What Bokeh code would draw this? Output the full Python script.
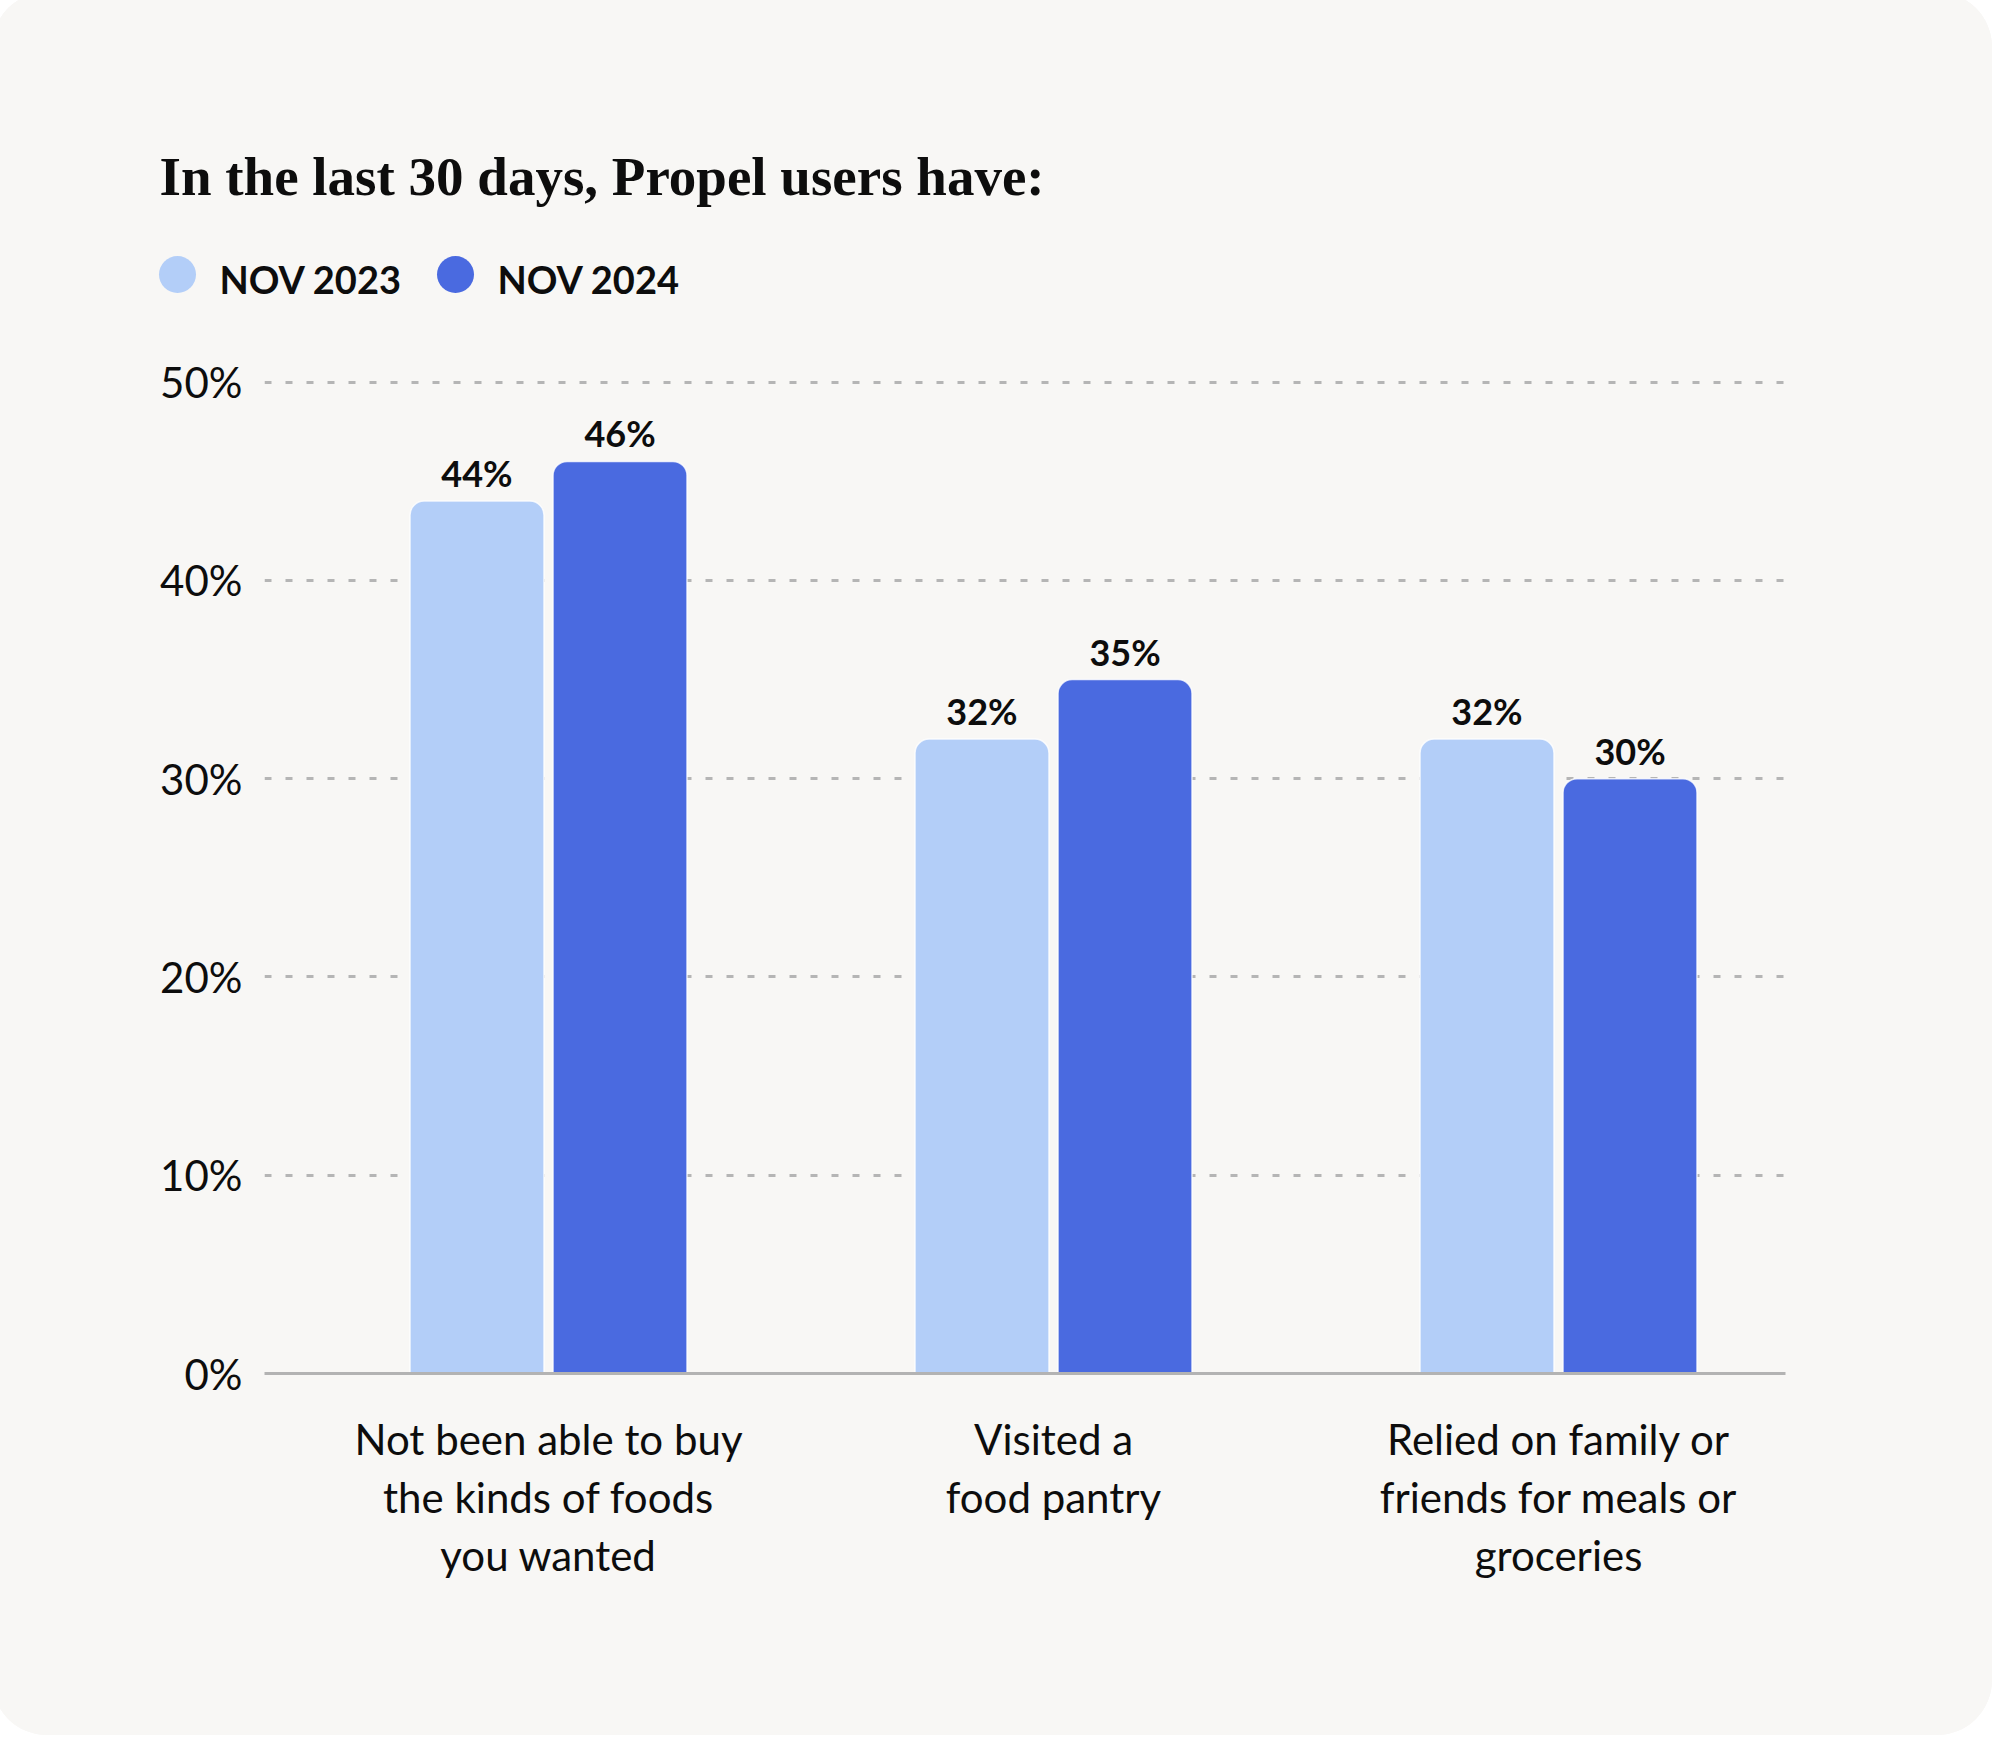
from bokeh.plotting import figure
from bokeh.layouts import column
from bokeh.models import (ColumnDataSource, Range1d, FixedTicker, LabelSet, PrintfTickFormatter)
from bokeh.embed import file_html
from bokeh.resources import INLINE
from bokeh.core.properties import value

# ---------------- data ----------------
categories = [
    "Not been able to buy\nthe kinds of foods\nyou wanted",
    "Visited a\nfood pantry",
    "Relied on family or\nfriends for meals or\ngroceries",
]
series_names = ["NOV 2023", "NOV 2024"]
nov_2023 = [44, 32, 32]
nov_2024 = [46, 35, 30]
y_ticks = [0, 10, 20, 30, 40, 50]
title_text = "In the last 30 days, Propel users have:"

# ---------------- style ----------------
CARD = "#f8f7f5"
LIGHT = "#b3cef8"
DARK = "#4a6ae0"
GRID = "#b5b5b5"
AXIS = "#b3b3b3"
INK = "#0d0d0d"
SANS = "Lato"
SERIF = "Liberation Serif"
series_colors = [LIGHT, DARK]

W = 2000
HH = 338          # header (title + legend) height, pixel-mapped ranges
HM = 1743 - HH    # chart height

# ---------------- header: title + legend key ----------------
hdr = figure(width=W, height=HH, output_backend="svg", toolbar_location=None, title=None,
             x_range=Range1d(0, W), y_range=Range1d(HH, 0),
             x_axis_type=None, y_axis_type=None, min_border=0,
             background_fill_color=CARD, border_fill_color=CARD, outline_line_color=None)
hdr.frame_align = False
hdr.text(x=[167], y=[184], text=[title_text], text_font=value(SERIF),
         text_font_style="bold", text_font_size="55px", text_color=INK,
         text_align="left", text_baseline="alphabetic")

key_x = [185, 463]      # legend key positions (pixels in the header)
key_y = 282
key_src = ColumnDataSource(dict(
    cx=key_x, cy=[key_y] * len(key_x), tx=[x + 42 for x in key_x],
    ty=[key_y + 4] * len(key_x), name=series_names, color=series_colors,
))
hdr.scatter(x="cx", y="cy", size=37, marker="circle", fill_color="color",
            line_color=None, source=key_src)
hdr.text(x="tx", y="ty", text="name", source=key_src, text_font=value(SANS),
         text_font_style="bold", text_font_size="38px", text_color=INK,
         text_align="left", text_baseline="alphabetic")

# ---------------- chart ----------------
p = figure(width=W, height=HM, output_backend="svg", toolbar_location=None, title=None,
           x_range=Range1d(-0.5624, 2.4495), y_range=Range1d(0, 52),
           min_border_left=272, min_border_right=207, min_border_top=12, min_border_bottom=362,
           background_fill_color=CARD, border_fill_color=CARD, outline_line_color=None)
p.frame_align = False

xs = list(range(len(categories)))
off = 0.1416
bw = 0.2653
src = ColumnDataSource(dict(
    x23=[x - off for x in xs], x24=[x + off for x in xs],
    v23=nov_2023, v24=nov_2024,
    l23=[f"{v}%" for v in nov_2023], l24=[f"{v}%" for v in nov_2024],
))

p.vbar(x="x23", top="v23", bottom=0, width=bw, source=src,
       fill_color=LIGHT, line_color="#ffffff", line_width=1.5, line_alpha=0.8,
       border_radius=(14, 14, 0, 0))
p.vbar(x="x24", top="v24", bottom=0, width=bw, source=src,
       fill_color=DARK, line_color="#ffffff", line_width=1.5, line_alpha=0.8,
       border_radius=(14, 14, 0, 0))

for xcol, vcol, lcol in (("x23", "v23", "l23"), ("x24", "v24", "l24")):
    p.add_layout(LabelSet(x=xcol, y=vcol, text=lcol, source=src, y_offset=14,
                          text_align="center", text_baseline="alphabetic",
                          text_font=value(SANS), text_font_style="bold",
                          text_font_size="36px", text_color=INK))

p.xaxis.ticker = FixedTicker(ticks=xs)
p.xaxis.major_label_overrides = {x: c for x, c in zip(xs, categories)}
p.xaxis.axis_line_color = AXIS
p.xaxis.axis_line_width = 3
p.xaxis.major_tick_line_color = None
p.xaxis.minor_tick_line_color = None
p.xaxis.major_tick_out = 0
p.xaxis.major_tick_in = 0
p.xaxis.major_label_standoff = 40
p.xaxis.major_label_text_font = SANS
p.xaxis.major_label_text_font_size = "42px"
p.xaxis.major_label_text_line_height = 1.167
p.xaxis.major_label_text_color = INK

p.yaxis.ticker = FixedTicker(ticks=y_ticks)
p.yaxis.formatter = PrintfTickFormatter(format="%d%%")
p.yaxis.axis_line_color = None
p.yaxis.major_tick_line_color = None
p.yaxis.minor_tick_line_color = None
p.yaxis.major_tick_out = 0
p.yaxis.major_tick_in = 0
p.yaxis.major_label_standoff = 22
p.yaxis.major_label_text_font = SANS
p.yaxis.major_label_text_font_size = "42px"
p.yaxis.major_label_text_color = INK

p.xgrid.grid_line_color = None
p.ygrid.grid_line_color = GRID
p.ygrid.grid_line_width = 3
p.ygrid.grid_line_dash = "7 14"

layout = column(hdr, p, spacing=0,
                styles={"margin": "-8px", "border-radius": "55px", "overflow": "hidden",
                        "background-color": CARD})

open("out.html", "w").write(file_html(layout, INLINE))
